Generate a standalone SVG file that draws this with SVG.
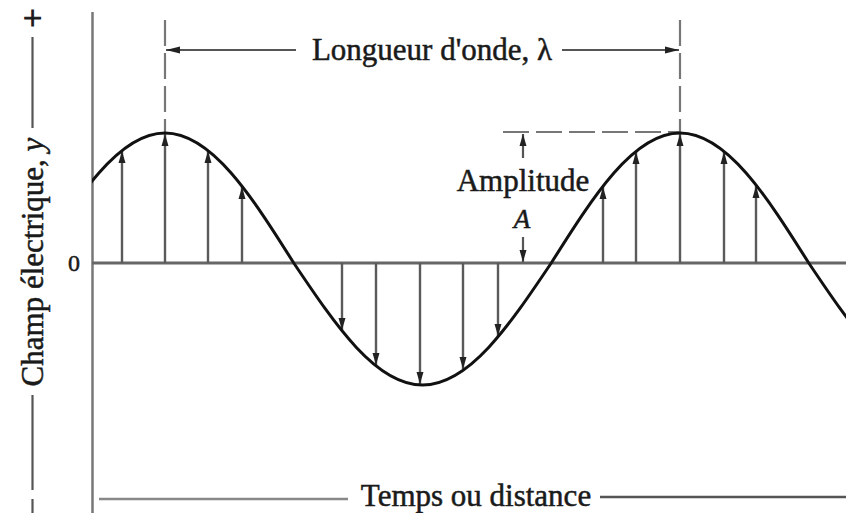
<svg xmlns="http://www.w3.org/2000/svg" width="846" height="513" viewBox="0 0 846 513">
  <style>
    .lbl { font-family: "Liberation Serif", "Times New Roman", serif; font-size: 31px; fill: #1a1a1a; stroke: #1a1a1a; stroke-width: 0.5; }
    .axis { stroke: #777; stroke-width: 2.5; fill: none; }
    .dim { stroke: #555; stroke-width: 2.2; fill: none; }
    .dash { stroke: #777; stroke-width: 2.2; fill: none; stroke-dasharray: 26 7; }
    .vec { stroke: #5a5a5a; stroke-width: 2.4; fill: none; marker-end: url(#ah); }
    .wave { stroke: #111; stroke-width: 3; fill: none; }
  </style>
  <defs>
    <marker id="ah" markerUnits="userSpaceOnUse" markerWidth="14" markerHeight="10" refX="12" refY="4" orient="auto">
      <path d="M0,0.5 L12,4 L0,7.5 Z" fill="#222"/>
    </marker>
    <marker id="ah2" markerUnits="userSpaceOnUse" markerWidth="16" markerHeight="10" refX="14" refY="4" orient="auto">
      <path d="M0,0.5 L14,4 L0,7.5 Z" fill="#222"/>
    </marker>
    <clipPath id="plot"><rect x="92" y="0" width="760" height="513"/></clipPath>
  </defs>
  <rect width="846" height="513" fill="#fff"/>

  <g id="y-axis-label">
    <text class="lbl" text-anchor="middle" x="32.5" y="29" style="font-size:34px;stroke-width:1">+</text>
    <line class="dim" x1="32.5" y1="37" x2="32.5" y2="128"/>
    <text class="lbl" text-anchor="middle" transform="translate(43,262) rotate(-90)">Champ électrique, <tspan font-style="italic">y</tspan></text>
    <line class="dim" x1="32.5" y1="395" x2="32.5" y2="490"/>
    <line class="dim" x1="32.5" y1="499" x2="32.5" y2="513"/>
  </g>

  <g id="axes">
    <line class="axis" x1="92.5" y1="12" x2="92.5" y2="513"/>
    <line x1="92" y1="263" x2="846" y2="263" stroke="#666" stroke-width="3"/>
    <text class="lbl" text-anchor="middle" x="74" y="271" style="font-size:24px">0</text>
  </g>

  <g id="wavelength">
    <line class="dash" x1="165" y1="20" x2="165" y2="133"/>
    <line class="dash" x1="680" y1="20" x2="680" y2="133"/>
    <line class="dim" x1="296" y1="50" x2="166" y2="50" marker-end="url(#ah2)"/>
    <line class="dim" x1="562" y1="50" x2="679" y2="50" marker-end="url(#ah2)"/>
    <text class="lbl" text-anchor="middle" x="432" y="60">Longueur d'onde, λ</text>
  </g>

  <g id="amplitude">
    <line class="dash" x1="503" y1="132" x2="680" y2="132" stroke-dasharray="24 8"/>
    <line class="dim" x1="523" y1="158" x2="523" y2="134" marker-end="url(#ah)"/>
    <text class="lbl" text-anchor="middle" x="523" y="191">Amplitude</text>
    <text class="lbl" text-anchor="middle" x="522" y="228" font-style="italic" style="font-size:27px">A</text>
    <line class="dim" x1="523" y1="237" x2="523" y2="262" marker-end="url(#ah)"/>
  </g>

  <g id="field-vectors">
    <line class="vec" x1="122" y1="263" x2="122" y2="151"/>
    <line class="vec" x1="165" y1="263" x2="165" y2="134"/>
    <line class="vec" x1="208" y1="263" x2="208" y2="151"/>
    <line class="vec" x1="242" y1="263" x2="242" y2="187"/>
    <line class="vec" x1="342" y1="263" x2="342" y2="330"/>
    <line class="vec" x1="376" y1="263" x2="376" y2="365"/>
    <line class="vec" x1="420" y1="263" x2="420" y2="384"/>
    <line class="vec" x1="463" y1="263" x2="463" y2="369"/>
    <line class="vec" x1="498" y1="263" x2="498" y2="336"/>
    <line class="vec" x1="603" y1="263" x2="603" y2="187"/>
    <line class="vec" x1="636" y1="263" x2="636" y2="152"/>
    <line class="vec" x1="680" y1="263" x2="680" y2="134"/>
    <line class="vec" x1="724" y1="263" x2="724" y2="152"/>
    <line class="vec" x1="756" y1="263" x2="756" y2="186"/>
  </g>

  <g id="wave" clip-path="url(#plot)">
    <path class="wave" d="M36.25,263 C78.25,196.4 118.35,133 165,133 C211.65,133 251.75,196.4 293.75,263 C335.75,325.5 375.85,385 422.5,385 C469.15,385 509.25,325.5 551.25,263 C593.25,196.4 633.35,133 680,133 C726.65,133 766.75,196.4 808.75,263 C850.75,325.5 890.85,385 937.5,385"/>
  </g>

  <g id="time-axis">
    <line x1="99" y1="499" x2="348" y2="499" stroke="#888" stroke-width="2.5"/>
    <text class="lbl" text-anchor="middle" x="476" y="506">Temps ou distance</text>
    <line x1="600" y1="497" x2="846" y2="497" stroke="#555" stroke-width="2.5"/>
  </g>
</svg>
